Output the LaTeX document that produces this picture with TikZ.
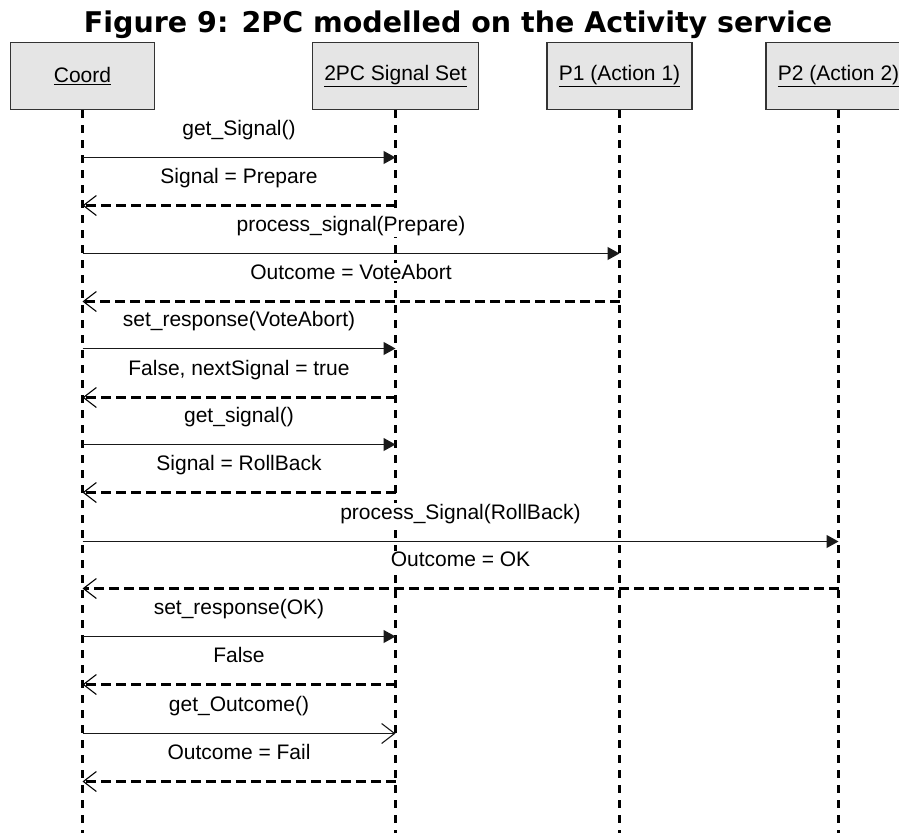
\documentclass[tikz,border=0pt]{standalone}
\usepackage{fontspec}
\setmainfont{Liberation Sans}
\newfontfamily\titlefont{DejaVu Sans}
\usetikzlibrary{arrows.meta}

\begin{document}
\begin{tikzpicture}[x=1pt,y=-1pt,
  txt/.style={font=\fontsize{21}{25}\selectfont},
  actor/.style={txt, draw=black!80, fill=black!10, line width=1.4pt,
    minimum height=67pt, inner sep=0pt, anchor=north},
  lifeline/.style={line width=2.4pt, dash pattern=on 8pt off 7pt},
  call/.style={line width=1.1pt, draw=black!90,
    -{Triangle[length=12pt,width=13pt]}},
  asyncall/.style={line width=1.1pt, draw=black!90,
    -{Straight Barb[length=13pt,width=20pt,line width=1.1pt 0]}},
  reply/.style={line width=2.4pt, dash pattern=on 10pt off 5pt,
    -{Straight Barb[length=13pt,width=20pt,line width=1.1pt 0]}},
  lbl/.style={txt, fill=white, inner sep=1pt, anchor=base, yshift=22pt}]

\useasboundingbox (0,0) rectangle (899,833);
\clip (0,0) rectangle (899,833);

% heading
\node (title) [anchor=base, font=\titlefont\bfseries\fontsize{28.5}{32}\selectfont]
  at (458,32) {Figure 9: 2PC modelled on the Activity service};

% participants
\node (coord) [actor, minimum width=144pt] at (82.5,42)  {\underline{Coord}};
\node (sset)  [actor, minimum width=166pt] at (395.5,42) {\underline{2PC Signal Set}};
\node (p1)    [actor, minimum width=145pt] at (619.5,42) {\underline{P1 (Action 1)}};
\node (p2)    [actor, minimum width=145pt] at (838.5,42) {\underline{P2 (Action 2)}};

% lifeline ends
\coordinate (coordEnd) at (coord.south |- 0,833);
\coordinate (ssetEnd)  at (sset.south |- 0,833);
\coordinate (p1End)    at (p1.south |- 0,833);
\coordinate (p2End)    at (p2.south |- 0,833);

\draw[lifeline] (coord.south) -- (coordEnd);
\draw[lifeline] (sset.south)  -- (ssetEnd);
\draw[lifeline] (p1.south)    -- (p1End);
\draw[lifeline] (p2.south)    -- (p2End);

% message rows on each lifeline
\foreach \n/\y in {1/157.5,2/205.5,3/253.5,4/301.5,5/348.5,6/397.5,7/444.5,
                   8/492.5,9/541.5,10/588.5,11/636.5,12/684.5,13/733.5,14/781.5}{
  \coordinate (C\n) at (coord.south |- 0,\y);
  \coordinate (S\n) at (sset.south |- 0,\y);
  \coordinate (P\n) at (p1.south |- 0,\y);
  \coordinate (Q\n) at (p2.south |- 0,\y);
}

% messages
\draw[call]     (C1)  -- node[lbl] {get\_Signal()} (S1);
\draw[reply]    (S2)  -- node[lbl] {Signal = Prepare} (C2);
\draw[call]     (C3)  -- node[lbl] {process\_signal(Prepare)} (P3);
\draw[reply]    (P4)  -- node[lbl] {Outcome = VoteAbort} (C4);
\draw[call]     (C5)  -- node[lbl] {set\_response(VoteAbort)} (S5);
\draw[reply]    (S6)  -- node[lbl] {False, nextSignal = true} (C6);
\draw[call]     (C7)  -- node[lbl] {get\_signal()} (S7);
\draw[reply]    (S8)  -- node[lbl] {Signal = RollBack} (C8);
\draw[call]     (C9)  -- node[lbl] {process\_Signal(RollBack)} (Q9);
\draw[reply]    (Q10) -- node[lbl] {Outcome = OK} (C10);
\draw[call]     (C11) -- node[lbl] {set\_response(OK)} (S11);
\draw[reply]    (S12) -- node[lbl] {False} (C12);
\draw[asyncall] (C13) -- node[lbl] {get\_Outcome()} (S13);
\draw[reply]    (S14) -- node[lbl] {Outcome = Fail} (C14);

\end{tikzpicture}
\end{document}
